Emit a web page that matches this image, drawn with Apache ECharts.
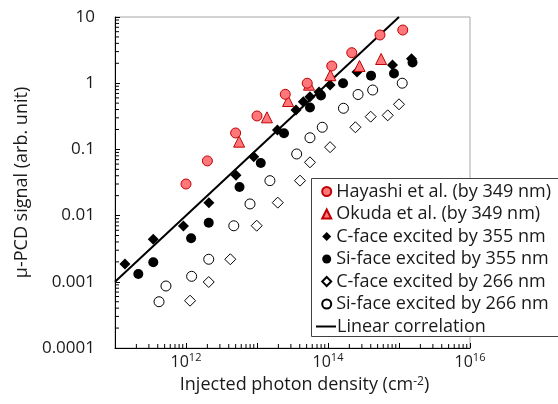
<!DOCTYPE html>
<html>
<head>
<meta charset="utf-8">
<script src="https://cdn.jsdelivr.net/npm/echarts@6/dist/echarts.min.js"></script>
<style>
html, body { margin: 0; padding: 0; background: #ffffff; }
#chart { width: 558px; height: 404px; }
</style>
</head>
<body>
<div id="chart"></div>
<script>
// Injected photon density (cm^-2) and μ-PCD signal (arb. unit) per data set
const hayashiX = [1.0e12, 2.0e12, 5.0e12, 1.0e13, 2.5e13, 5.1e13, 1.13e14, 2.16e14, 5.4e14, 1.13e15];
const hayashiY = [0.030, 0.067, 0.177, 0.32, 0.68, 1.0, 1.82, 2.89, 5.35, 6.36];

const okudaX = [5.6e12, 1.38e13, 2.74e13, 5.4e13, 1.08e14, 2.78e14, 5.6e14];
const okudaY = [0.131, 0.305, 0.538, 0.95, 1.32, 1.82, 2.32];

const cFace355X = [1.38e11, 3.46e11, 9.2e11, 2.1e12, 5.06e12, 9.0e12, 1.94e13, 3.54e13, 4.49e13, 5.57e13, 7.47e13, 1.07e14, 2.56e14, 8.1e14, 1.5e15];
const cFace355Y = [0.00186, 0.00438, 0.00697, 0.0157, 0.0408, 0.0773, 0.196, 0.394, 0.526, 0.625, 0.736, 0.94, 1.48, 1.88, 2.35];

const siFace355X = [2.13e11, 3.46e11, 1.18e12, 2.09e12, 5.67e12, 1.13e13, 2.4e13, 5.57e13, 7.96e13, 1.63e14, 4.04e14, 8.5e14, 1.55e15];
const siFace355Y = [0.00131, 0.00197, 0.00454, 0.00782, 0.027, 0.0623, 0.175, 0.43, 0.652, 1.0, 1.30, 1.40, 2.05];

const cFace266X = [1.14e12, 2.09e12, 4.21e12, 9.9e12, 1.96e13, 4.03e13, 5.57e13, 1.07e14, 2.43e14, 3.99e14, 6.93e14, 1.0e15];
const cFace266Y = [0.000518, 0.000993, 0.00219, 0.00704, 0.0157, 0.0337, 0.0638, 0.108, 0.216, 0.312, 0.327, 0.48];

const siFace266X = [4.17e11, 5.22e11, 1.2e12, 2.09e12, 4.71e12, 7.97e12, 1.52e13, 3.62e13, 5.57e13, 8.3e13, 1.65e14, 2.65e14, 4.26e14, 1.11e15];
const siFace266Y = [0.0005, 0.000864, 0.00121, 0.00219, 0.00702, 0.015, 0.0337, 0.0853, 0.150, 0.216, 0.418, 0.675, 0.789, 1.0];

// Linear correlation (slope 1 on log-log axes)
const linearX = [1e11, 1e15];
const linearY = [1e-3, 10];

// Axis ranges and tick labels
const xMin = 1e11, xMax = 1e16;
const yMin = 1e-4, yMax = 10;
const xLabelExponents = [12, 14, 16];
const yTickLabels = ['0.0001', '0.001', '0.01', '0.1', '1', '10'];

const seriesNames = [
  'Hayashi et al. (by 349 nm)',
  'Okuda et al. (by 349 nm)',
  'C-face excited by 355 nm',
  'Si-face excited by 355 nm',
  'C-face excited by 266 nm',
  'Si-face excited by 266 nm',
  'Linear correlation'
];

const FONT = 'Open Sans';
const TEXT = '#1a1a1a';

function pairs(xs, ys) { return xs.map((x, i) => [x, ys[i]]); }

// Log-scale minor tick positions (2..9 × 10^n)
function minorValues(lo, hi) {
  const out = [];
  for (let e = Math.round(Math.log10(lo)); e < Math.round(Math.log10(hi)); e++) {
    for (let m = 2; m <= 9; m++) out.push(m * Math.pow(10, e));
  }
  return out;
}
const xMinor = minorValues(xMin, xMax).map(v => [v, yMin]);
const yMinor = minorValues(yMin, yMax).map(v => [xMin, v]);

const chart = echarts.init(document.getElementById('chart'), null, { renderer: 'canvas' });

const openStyle = { color: '#ffffff', borderColor: '#000000', borderWidth: 1, opacity: 1 };
const solidStyle = { color: '#000000', opacity: 1 };
const redStyle = { color: '#ff767b', borderColor: '#c00000', borderWidth: 1, opacity: 1 };

chart.setOption({
  animation: false,
  textStyle: { fontFamily: FONT, color: TEXT },
  grid: {
    left: 115, right: 88, top: 17, bottom: 56,
    show: true, borderColor: '#a6a6a6', borderWidth: 1, backgroundColor: 'transparent'
  },
  xAxis: {
    type: 'log', min: xMin, max: xMax,
    splitLine: { show: false },
    axisLine: { lineStyle: { color: '#000', width: 1 } },
    axisTick: { inside: true, length: 5, lineStyle: { color: '#000' } },
    axisLabel: {
      margin: 4,
      formatter: v => {
        const e = Math.round(Math.log10(v));
        return xLabelExponents.indexOf(e) >= 0 ? '{b|10}{s|' + e + '}' : '';
      },
      rich: {
        b: { fontFamily: FONT, fontSize: 16, lineHeight: 20, color: TEXT },
        s: { fontFamily: FONT, fontSize: 11, lineHeight: 8, verticalAlign: 'top', color: TEXT }
      }
    },
    name: 'Injected photon density (cm{s|-2})',
    nameLocation: 'middle',
    nameGap: 28,
    nameTextStyle: {
      fontFamily: FONT, fontSize: 18, color: TEXT, padding: [0, 0, 0, 24],
      rich: { s: { fontFamily: FONT, fontSize: 12, lineHeight: 10, verticalAlign: 'top', color: TEXT } }
    }
  },
  yAxis: {
    type: 'log', min: yMin, max: yMax,
    splitLine: { show: false },
    axisLine: { lineStyle: { color: '#000', width: 1 } },
    axisTick: { inside: true, length: 5, lineStyle: { color: '#000' } },
    axisLabel: {
      margin: 20, fontSize: 17, color: TEXT, fontFamily: FONT,
      formatter: v => yTickLabels[Math.round(Math.log10(v)) + 4] || ''
    },
    name: 'μ-PCD signal (arb. unit)',
    nameLocation: 'middle',
    nameGap: 84,
    nameTextStyle: { fontFamily: FONT, fontSize: 18, color: TEXT }
  },
  legend: [
    {
      orient: 'vertical', left: 321.2, top: 181.5, padding: 0, z: 60,
      itemWidth: 9, itemHeight: 9, itemGap: 2.5,
      textStyle: { fontFamily: FONT, fontSize: 18, color: TEXT, lineHeight: 20 },
      data: seriesNames.slice(0, 6)
    },
    {
      orient: 'vertical', left: 316, top: 315.5, padding: 0, z: 60,
      itemWidth: 20, itemHeight: 2,
      textStyle: { fontFamily: FONT, fontSize: 18, color: TEXT, lineHeight: 22, padding: [0, 0, 0, -4] },
      data: [{ name: seriesNames[6], icon: 'rect' }]
    }
  ],
  graphic: [{
    type: 'rect', left: 311, top: 178, z: 50,
    shape: { width: 260, height: 158 },
    style: { fill: '#ffffff', stroke: '#404040', lineWidth: 1 }
  }],
  series: [
    {
      name: seriesNames[6], type: 'line', data: pairs(linearX, linearY),
      symbol: 'none', itemStyle: { color: '#000' }, lineStyle: { color: '#000', width: 2 }, z: 2, silent: true
    },
    {
      name: seriesNames[4], type: 'scatter', data: pairs(cFace266X, cFace266Y),
      symbol: 'diamond', symbolSize: 11, itemStyle: openStyle, z: 3
    },
    {
      name: seriesNames[5], type: 'scatter', data: pairs(siFace266X, siFace266Y),
      symbol: 'circle', symbolSize: 10, itemStyle: openStyle, z: 3
    },
    {
      name: seriesNames[3], type: 'scatter', data: pairs(siFace355X, siFace355Y),
      symbol: 'circle', symbolSize: 10, itemStyle: solidStyle, z: 4
    },
    {
      name: seriesNames[2], type: 'scatter', data: pairs(cFace355X, cFace355Y),
      symbol: 'diamond', symbolSize: 11, itemStyle: solidStyle, z: 4
    },
    {
      name: seriesNames[1], type: 'scatter', data: pairs(okudaX, okudaY),
      symbol: 'triangle', symbolSize: 11, itemStyle: redStyle, z: 5
    },
    {
      name: seriesNames[0], type: 'scatter', data: pairs(hayashiX, hayashiY),
      symbol: 'circle', symbolSize: 10, itemStyle: redStyle, z: 5
    },
    {
      // x-axis minor ticks
      type: 'custom', silent: true, z: 6, clip: false, data: xMinor,
      renderItem: (params, api) => {
        const p = api.coord([api.value(0), api.value(1)]);
        return { type: 'line', shape: { x1: p[0], y1: p[1], x2: p[0], y2: p[1] - 4 }, style: { stroke: '#000', lineWidth: 1 } };
      }
    },
    {
      // y-axis minor ticks
      type: 'custom', silent: true, z: 6, clip: false, data: yMinor,
      renderItem: (params, api) => {
        const p = api.coord([api.value(0), api.value(1)]);
        return { type: 'line', shape: { x1: p[0], y1: p[1], x2: p[0] + 4, y2: p[1] }, style: { stroke: '#000', lineWidth: 1 } };
      }
    }
  ]
});
</script>
</body>
</html>
